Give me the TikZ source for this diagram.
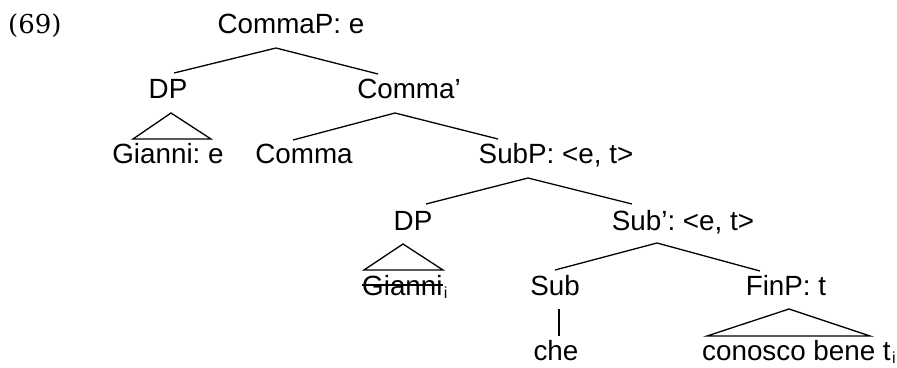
\documentclass[tikz,border=0pt]{standalone}
\usepackage{fontspec}
\setmainfont{Liberation Sans}
\newfontfamily\numfont{DejaVu Serif}
\frenchspacing
\begin{document}
\begin{tikzpicture}[x=1pt,y=-1pt,
  lbl/.style={inner sep=0pt, anchor=base, font=\fontsize{27.8}{30}\selectfont},
  subi/.style={inner sep=0pt, anchor=base west, font=\fontsize{16}{16}\selectfont},
  edge/.style={line width=1.3pt, line join=miter, line cap=butt}]
\useasboundingbox (0,0) rectangle (897,367);
\node[font=\numfont\fontsize{26}{30}\selectfont, inner sep=0pt, anchor=base west] (ex) at (8,33) {(69)};
% nodes
\node[lbl] (cp) at (291,33) {CommaP: e};
\node[lbl] (dpa) at (168,98) {DP};
\node[lbl] (cb) at (409,98) {Comma’};
\node[lbl] (gia) at (168,163) {Gianni: e};
\node[lbl] (cm) at (304,163) {Comma};
\node[lbl] (sp) at (556,163) {SubP: <e, t>};
\node[lbl] (dpb) at (413,230) {DP};
\node[lbl] (sb) at (683,230) {Sub’: <e, t>};
\node[lbl, anchor=base west] (gib) at (362,295) {Gianni};
\node[subi] (ia) at ([xshift=1pt,yshift=-3pt]gib.base east) {i};
\node[lbl] (sub) at (555,295) {Sub};
\node[lbl] (fin) at (786,295) {FinP: t};
\node[lbl] (che) at (556,360) {che};
\node[lbl, anchor=base west] (cbt) at (702,360) {conosco bene t};
\node[subi] (ib) at ([xshift=1pt,yshift=-3pt]cbt.base east) {i};
% branch points
\coordinate (cpA) at (276,48); \coordinate (cpL) at (174,73); \coordinate (cpR) at (378,74);
\coordinate (daA) at (171,113); \coordinate (daL) at (133,139); \coordinate (daR) at (211,139);
\coordinate (cbA) at (395,113); \coordinate (cbL) at (293,140); \coordinate (cbR) at (498,139);
\coordinate (spA) at (528,178); \coordinate (spL) at (426,204); \coordinate (spR) at (632,204);
\coordinate (dbA) at (403,244); \coordinate (dbL) at (364,270); \coordinate (dbR) at (443,270);
\coordinate (sbA) at (657,243); \coordinate (sbL) at (555,270); \coordinate (sbR) at (760,271);
\coordinate (suT) at (559,309); \coordinate (suB) at (559,336);
\coordinate (fiA) at (789,309); \coordinate (fiL) at (707,336); \coordinate (fiR) at (870,336);
% edges
\draw[edge] (cpL) -- (cpA) -- (cpR);
\draw[edge] (daL) -- (daA) -- (daR) -- cycle;
\draw[edge] (cbL) -- (cbA) -- (cbR);
\draw[edge] (spL) -- (spA) -- (spR);
\draw[edge] (dbL) -- (dbA) -- (dbR) -- cycle;
\draw[edge] (sbL) -- (sbA) -- (sbR);
\draw[edge] (suT) -- (suB);
\draw[edge] (fiL) -- (fiA) -- (fiR) -- cycle;
% strike-through
\draw[line width=1.1pt] ([yshift=10pt]gib.base west) -- ([yshift=10pt]gib.base east);
\end{tikzpicture}
\end{document}
